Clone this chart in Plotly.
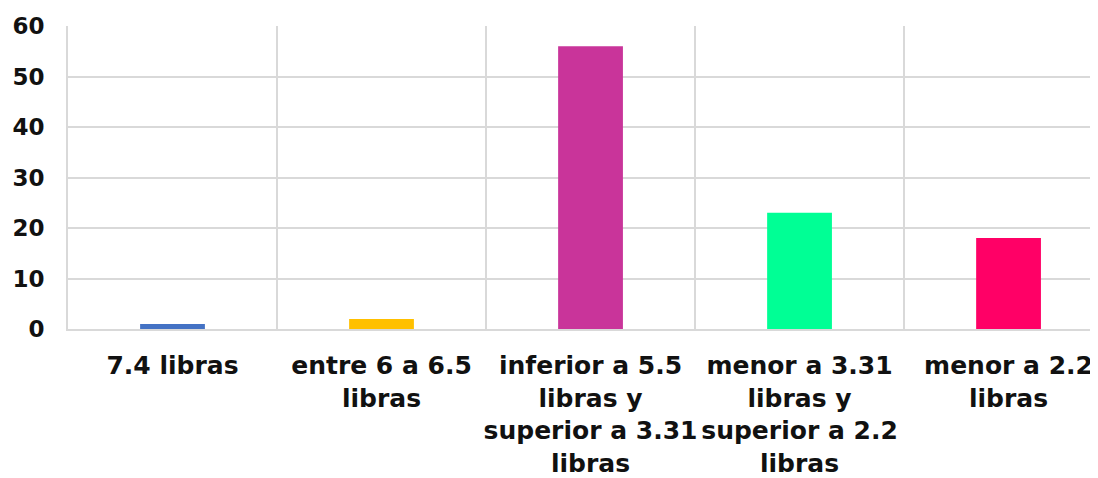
import plotly.graph_objects as go

categories = [
    "7.4 libras",
    "entre 6 a 6.5<br>libras",
    "inferior a 5.5<br>libras y<br>superior a 3.31<br>libras",
    "menor a 3.31<br>libras y<br>superior a 2.2<br>libras",
    "menor a 2.2<br>libras",
]
values = [1, 2, 56, 23, 18]
colors = ["#4472C4", "#FFC000", "#C9349A", "#00FF95", "#FF0066"]
y_ticks = [0, 10, 20, 30, 40, 50, 60]

fig = go.Figure(
    go.Bar(
        x=categories,
        y=values,
        marker=dict(color=colors, line=dict(width=0)),
        width=0.31,
        hoverinfo="x+y",
    )
)

grid = "#d9d9d9"
fig.update_layout(
    width=1090,
    height=470,
    margin=dict(l=60, r=0, t=18, b=149),
    paper_bgcolor="white",
    plot_bgcolor="white",
    showlegend=False,
    xaxis=dict(
        type="category",
        range=[-0.5, 4.428],
        tickson="boundaries",
        showgrid=True,
        gridcolor=grid,
        gridwidth=2,
        showline=True,
        linecolor=grid,
        linewidth=2,
        ticks="",
        tickfont=dict(family="DejaVu Sans, sans-serif", size=25, color="#111111", weight="bold"),
        ticklabelstandoff=13,
        tickangle=0,
    ),
    yaxis=dict(
        range=[0, 60],
        tickvals=y_ticks,
        showgrid=True,
        gridcolor=grid,
        gridwidth=2,
        showline=True,
        linecolor=grid,
        linewidth=2,
        zeroline=False,
        ticks="",
        tickfont=dict(family="DejaVu Sans, sans-serif", size=23, color="#111111", weight="bold"),
        ticklabelstandoff=17,
    ),
)

fig.write_html("out.html")
